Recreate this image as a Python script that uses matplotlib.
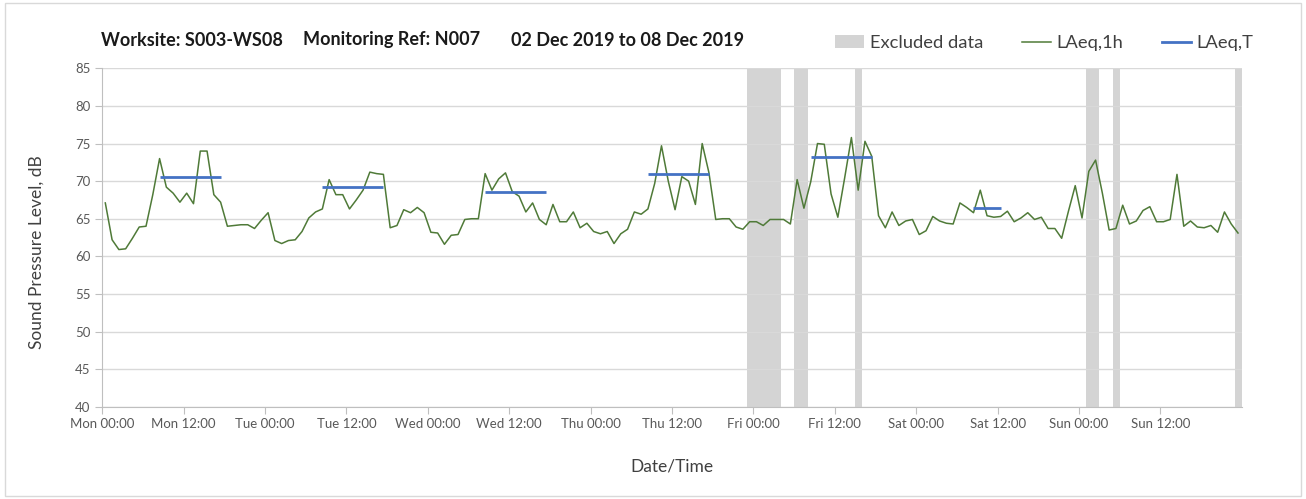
import matplotlib.pyplot as plt
import numpy as np
from matplotlib.patches import Patch, Rectangle
from matplotlib.lines import Line2D

plt.rcParams['font.family'] = ['Lato', 'DejaVu Sans']

# hourly LAeq,1h values, Mon 00:00 .. Sun 23:00
mon = [67.1, 62.2, 60.9, 61.0, 62.4, 63.9, 64.0, 68.2, 73.0, 69.2, 68.4, 67.2,
       68.4, 67.0, 74.0, 74.0, 68.2, 67.2, 64.0, 64.1, 64.2, 64.2, 63.7, 64.8]
tue = [65.8, 62.1, 61.7, 62.1, 62.2, 63.3, 65.1, 65.9, 66.3, 70.2, 68.2, 68.2,
       66.3, 67.5, 68.8, 71.2, 71.0, 70.9, 63.8, 64.1, 66.2, 65.8, 66.5, 65.8]
wed = [63.2, 63.1, 61.6, 62.8, 62.9, 64.9, 65.0, 65.0, 71.0, 68.8, 70.3, 71.1,
       68.6, 68.0, 65.9, 67.1, 64.9, 64.2, 66.9, 64.6, 64.6, 65.9, 63.8, 64.4]
thu = [63.3, 63.0, 63.3, 61.7, 63.0, 63.6, 65.9, 65.6, 66.3, 69.7, 74.7, 70.0,
       66.2, 70.6, 70.0, 66.9, 75.0, 71.1, 64.9, 65.0, 65.0, 63.9, 63.6, 64.6]
fri = [64.6, 64.1, 64.9, 64.9, 64.9, 64.3, 70.2, 66.4, 69.9, 75.0, 74.9, 68.3,
       65.2, 70.4, 75.8, 68.8, 75.3, 73.3, 65.4, 63.8, 65.9, 64.1, 64.7, 64.9]
sat = [62.9, 63.4, 65.3, 64.7, 64.4, 64.3, 67.1, 66.5, 65.8, 68.8, 65.4, 65.2,
       65.3, 66.0, 64.6, 65.1, 65.8, 64.9, 65.2, 63.7, 63.7, 62.4, 66.0, 69.4]
sun = [65.1, 71.3, 72.8, 68.4, 63.5, 63.7, 66.8, 64.3, 64.7, 66.1, 66.6, 64.6,
       64.6, 64.9, 70.9, 64.0, 64.7, 63.9, 63.8, 64.1, 63.2, 65.9, 64.3, 63.1]
laeq_1h = mon + tue + wed + thu + fri + sat + sun

# LAeq,T daytime values per day: (day index, first hour, last hour, level)
laeq_t = [(0, 8, 17, 70.6), (1, 8, 17, 69.2), (2, 8, 17, 68.6),
          (3, 8, 17, 71.0), (4, 8, 17, 73.2), (5, 8, 12, 66.4)]

# excluded hours (hours since Mon 00:00)
excluded = [95, 96, 97, 98, 99, 102, 103, 111, 145, 146, 149, 167]

days = ['Mon', 'Tue', 'Wed', 'Thu', 'Fri', 'Sat', 'Sun']
tick_labels = [f'{d} {t}' for d in days for t in ('00:00', '12:00')]
title_parts = ['Worksite: S003-WS08', 'Monitoring Ref: N007', '02 Dec 2019 to 08 Dec 2019']

green = '#4f7a38'
blue = '#4472c4'
grey_band = '#d4d4d4'
txt = '#404040'
tick_txt = '#595959'

fig = plt.figure(figsize=(13.06, 4.99), dpi=100)
fig.patches.append(Rectangle((0.004, 0.006), 0.992, 0.988, transform=fig.transFigure,
                             fill=False, edgecolor='#d9d9d9', linewidth=1))
ax = fig.add_axes([0.0783, 0.185, 0.8725, 0.678])

hours = np.arange(len(laeq_1h))
off = 0.45
ax.bar(np.array(excluded) + 0.5, 45, bottom=40, width=1.0, color=grey_band,
       zorder=1, linewidth=0)
ax.plot(hours + off, laeq_1h, color=green, lw=1.1, zorder=3)
for d, h0, h1, v in laeq_t:
    ax.plot([d * 24 + h0 + off, d * 24 + h1 + off], [v, v], color=blue, lw=2.0,
            solid_capstyle='butt', zorder=4)

ax.set_xlim(0, 168)
ax.set_ylim(40, 85)
ax.set_yticks(np.arange(40, 86, 5))
ax.set_xticks(np.arange(0, 168, 12))
ax.set_xticklabels(tick_labels)
ax.set_xticks(np.arange(0, 169, 24), minor=True)
ax.grid(axis='y', color='#d9d9d9', lw=1.0, zorder=0)
ax.grid(axis='x', which='minor', color='#d9d9d9', lw=1.0, zorder=0)
ax.tick_params(axis='x', which='minor', length=0)
ax.tick_params(axis='both', which='major', length=5, color='#bfbfbf',
               labelsize=9.5, labelcolor=tick_txt)
for s in ('top', 'right'):
    ax.spines[s].set_visible(False)
for s in ('left', 'bottom'):
    ax.spines[s].set_color('#bfbfbf')

# title pieces placed where they sit in the original
for xpx, part in zip([101, 303, 511], title_parts):
    fig.text(xpx / 1306, 1 - 40 / 499, part, fontsize=13, fontweight='bold',
             color='#1a1a1a', va='center', ha='left')
fig.text(37 / 1306, 1 - 252 / 499, 'Sound Pressure Level, dB', rotation=90,
         fontsize=12.5, color=txt, va='center', ha='center')
fig.text(672 / 1306, 1 - 467 / 499, 'Date/Time', fontsize=12.5, color=txt,
         va='center', ha='center')

handles = [Patch(facecolor=grey_band, edgecolor='none'),
           Line2D([], [], color=green, lw=1.1),
           Line2D([], [], color=blue, lw=2.0)]
fig.legend(handles, ['Excluded data', 'LAeq,1h', 'LAeq,T'], ncol=3, frameon=False,
           loc='center left', bbox_to_anchor=(835 / 1306, 1 - 43 / 499),
           fontsize=13.2, labelcolor=txt, handlelength=1.6, handletextpad=0.3,
           columnspacing=2.1, borderpad=0, borderaxespad=0)

fig.savefig('out.png', dpi=100)
